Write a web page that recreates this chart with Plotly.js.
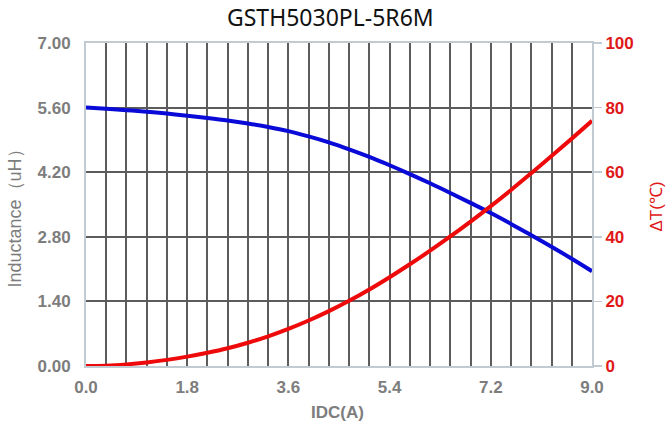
<!DOCTYPE html>
<html>
<head>
<meta charset="utf-8">
<script src="https://cdn.plot.ly/plotly-3.0.1.min.js"></script>
<style>html,body{margin:0;padding:0;background:#fff;}#chart{width:666px;height:430px;}</style>
</head>
<body>
<div id="chart"></div>
<script>
// Current (A)
const idc = [0, 0.36, 0.72, 1.08, 1.44, 1.8, 2.16, 2.52, 2.88, 3.24, 3.6, 3.96, 4.32, 4.68, 5.04, 5.4, 5.76, 6.12, 6.48, 6.84, 7.2, 7.56, 7.92, 8.28, 8.64, 9.0];
// Inductance (uH)
const inductance = [5.600, 5.575, 5.545, 5.510, 5.470, 5.425, 5.375, 5.320, 5.255, 5.180, 5.090, 4.975, 4.845, 4.695, 4.530, 4.350, 4.160, 3.960, 3.750, 3.535, 3.315, 3.080, 2.835, 2.585, 2.325, 2.055];
// Temperature rise (°C)
const deltaT = [0, 0.1, 0.5, 1.1, 1.9, 2.9, 4.1, 5.5, 7.2, 9.2, 11.5, 14.1, 17.0, 20.2, 23.7, 27.5, 31.5, 35.7, 40.1, 44.7, 49.5, 54.5, 59.7, 65.0, 70.4, 75.9];

const xTickVals = [0, 1.8, 3.6, 5.4, 7.2, 9.0];
const xTickText = ['0.0', '1.8', '3.6', '5.4', '7.2', '9.0'];
const yTickVals = [0, 1.4, 2.8, 4.2, 5.6, 7.0];
const yTickText = ['0.00', '1.40', '2.80', '4.20', '5.60', '7.00'];
const y2TickVals = [0, 20, 40, 60, 80, 100];

const gray = '#7d7d7d';
const red = '#e01818';
const gridC = '#5c5c5c';
const borderC = '#c3cbd2';
const tickFont = 'Liberation Sans, Arial, sans-serif';

const traces = [
  {x: idc, y: inductance, type: 'scatter', mode: 'lines', line: {color: '#0a0ad8', width: 4, shape: 'spline'}, yaxis: 'y', hoverinfo: 'none'},
  {x: idc, y: deltaT, type: 'scatter', mode: 'lines', line: {color: '#ee0a0a', width: 4, shape: 'spline'}, yaxis: 'y2', hoverinfo: 'none'}
];

const layout = {
  width: 666, height: 430,
  margin: {l: 86, r: 74, t: 43, b: 64},
  paper_bgcolor: '#fff', plot_bgcolor: '#fff',
  showlegend: false,
  title: {text: 'GSTH5030PL-5R6M', font: {family: 'Noto Sans, Open Sans, sans-serif', size: 23, color: '#111'},
          x: 0.496, xref: 'container', xanchor: 'center', y: 1 - 18/430, yref: 'container', yanchor: 'middle'},
  xaxis: {
    range: [0, 9], tickvals: xTickVals, ticktext: xTickText,
    showgrid: true, gridcolor: gridC, gridwidth: 2,
    minor: {dtick: 0.36, tick0: 0, showgrid: true, gridcolor: gridC, gridwidth: 2, ticks: ''},
    showline: true, linecolor: borderC, linewidth: 2, mirror: true,
    ticks: 'outside', tickcolor: 'rgba(0,0,0,0)', ticklen: 5,
    tickfont: {family: tickFont, size: 17, color: gray, weight: 'bold'},
    zeroline: false, fixedrange: true
  },
  yaxis: {
    range: [0, 7], tickvals: yTickVals, ticktext: yTickText,
    showgrid: true, gridcolor: gridC, gridwidth: 2,
    showline: true, linecolor: borderC, linewidth: 2, mirror: true,
    ticks: 'outside', tickcolor: 'rgba(0,0,0,0)', ticklen: 10,
    tickfont: {family: tickFont, size: 17, color: gray, weight: 'bold'},
    zeroline: false, fixedrange: true
  },
  yaxis2: {
    range: [0, 100], tickvals: y2TickVals, overlaying: 'y', side: 'right',
    showgrid: false, zeroline: false,
    ticks: 'outside', tickcolor: borderC, ticklen: 9, tickwidth: 1.5,
    tickfont: {family: tickFont, size: 17, color: red, weight: 'bold'},
    fixedrange: true
  },
  annotations: [
    {text: 'Inductance（uH）', xref: 'paper', yref: 'paper', x: 0, y: 0.5, xshift: -72, yshift: -10,
     xanchor: 'center', yanchor: 'middle', textangle: -90, showarrow: false,
     font: {family: tickFont, size: 18, color: gray}},
    {text: 'ΔT(℃)', xref: 'paper', yref: 'paper', x: 1, y: 0.5, xshift: 64, yshift: -2,
     xanchor: 'center', yanchor: 'middle', textangle: -90, showarrow: false,
     font: {family: tickFont, size: 17, color: red}},
    {text: 'IDC(A)', xref: 'paper', yref: 'paper', x: 0.5, y: 0, xshift: -2, yshift: -46,
     xanchor: 'center', yanchor: 'middle', showarrow: false,
     font: {family: tickFont, size: 17, color: gray, weight: 'bold'}}
  ]
};

Plotly.newPlot('chart', traces, layout, {displayModeBar: false, staticPlot: true});
</script>
</body>
</html>
